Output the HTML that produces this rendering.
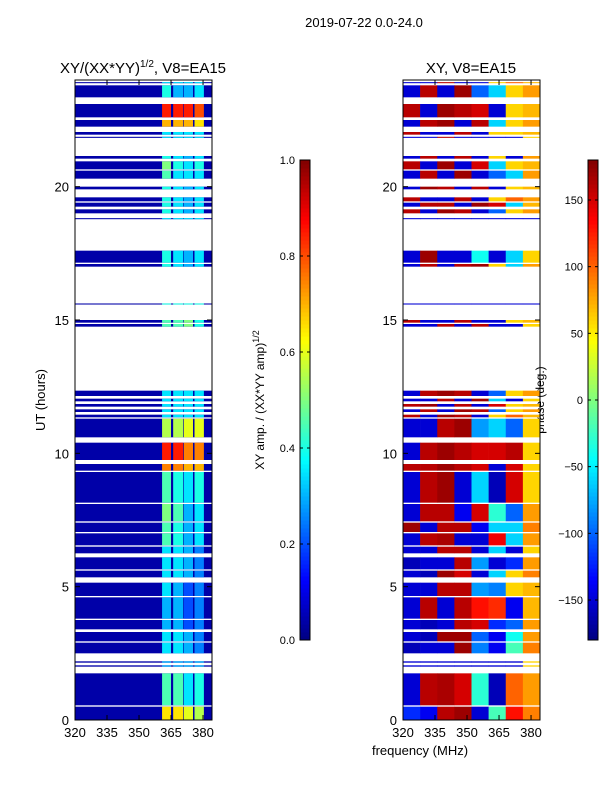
<!DOCTYPE html>
<html><head><meta charset="utf-8"><style>
body{margin:0;background:#fff;font-family:"Liberation Sans",sans-serif}
svg text{font-family:"Liberation Sans",sans-serif;fill:#000}
</style></head><body>
<svg id="s" width="600" height="800" xmlns="http://www.w3.org/2000/svg">
<text x="364" y="27" font-size="13" text-anchor="middle">2019-07-22 0.0-24.0</text>
<text x="143" y="73" font-size="15" text-anchor="middle">XY/(XX*YY)<tspan font-size="10" dy="-6">1/2</tspan><tspan dy="6">, V8=EA15</tspan></text>
<text x="471" y="73" font-size="15" text-anchor="middle">XY, V8=EA15</text>
<text x="45" y="400" font-size="13" text-anchor="middle" transform="rotate(-90 45 400)">UT (hours)</text>
<text x="420" y="755" font-size="13" text-anchor="middle">frequency (MHz)</text>
<text x="264" y="400" font-size="12" text-anchor="middle" transform="rotate(-90 264 400)">XY amp. / (XX*YY amp)<tspan font-size="9" dy="-5">1/2</tspan></text>
<text x="544" y="400" font-size="12" text-anchor="middle" transform="rotate(-90 544 400)">phase (deg.)</text>
<g id="gL"></g>
<g id="gR"></g>
<g id="axes"></g>
</svg>
<script>
const segStart=[0,0.55,2.0,2.15,2.5,2.95,3.4,3.8,4.65,5.35,5.65,6.25,6.55,7.05,7.45,8.15,9.35,9.75,10.6,11.35,11.55,11.75,11.95,12.15,14.75,14.9,15.58,17.0,17.15,18.78,19.0,19.25,19.45,19.9,20.3,20.65,21.05,21.83,21.95,22.25,22.6,23.35,23.88];
const segEnd=[0.5,1.75,2.05,2.2,2.9,3.3,3.75,4.6,5.15,5.6,6.1,6.5,7.0,7.4,8.1,9.3,9.6,10.4,11.3,11.45,11.65,11.85,12.05,12.35,14.85,15.0,15.62,17.1,17.6,18.82,19.15,19.4,19.6,20.0,20.6,20.95,21.15,21.87,22.05,22.5,23.1,23.8,23.92];
const ampWin=[[.65,.65,.6,.55],[.45,.45,.35,.4],[.3,.3,.3,.3],[.3,.3,.3,.3],[.35,.35,.3,.25],[.35,.35,.3,.25],[.3,.3,.2,.25],[.3,.3,.2,.25],[.35,.3,.2,.25],[.35,.35,.3,.25],[.35,.35,.3,.25],[.35,.35,.3,.25],[.45,.4,.3,.35],[.45,.4,.3,.35],[.5,.45,.3,.35],[.45,.4,.35,.4],[.75,.75,.7,.7],[.85,.85,.75,.75],[.55,.55,.6,.6],[.35,.35,.35,.35],[.35,.35,.35,.35],[.35,.35,.35,.35],[.35,.35,.35,.35],[.35,.35,.35,.35],[.45,.45,.5,.4],[.45,.45,.5,.4],[.4,.4,.4,.4],[.4,.35,.3,.35],[.4,.35,.3,.35],[.35,.35,.35,.35],[.4,.35,.3,.35],[.4,.35,.3,.35],[.4,.35,.3,.35],[.4,.35,.3,.35],[.45,.35,.35,.35],[.5,.4,.35,.4],[.4,.35,.3,.35],[.35,.35,.35,.35],[.35,.35,.35,.35],[.7,.7,.7,.65],[.85,.85,.85,.8],[.4,.3,.3,.35],[.35,.35,.35,.35]];
const phaseBins=[[-120,-140,160,170,-150,-20,130,90],[-150,160,165,150,-30,-160,100,80],[-150,-150,-150,-150,-150,-150,-150,60],[-150,-150,-150,-150,-150,-150,-150,60],[-160,-150,-150,170,-90,-140,-20,90],[-150,-160,170,170,-100,-140,-40,80],[-150,-160,-150,160,150,-120,-100,80],[-150,160,-150,160,130,120,-140,70],[-150,-150,160,160,-80,-90,60,70],[-150,-160,170,150,-150,-60,60,90],[-160,-150,-150,160,-80,-150,-120,80],[-150,-150,160,160,-150,-60,-150,60],[-150,160,165,-150,-150,140,-60,80],[170,-150,160,160,-140,-60,-60,90],[-150,160,160,-140,150,-30,-100,80],[-150,160,170,-150,-60,-160,150,60],[160,160,170,160,150,-150,150,60],[-150,160,170,160,150,150,160,60],[-150,-150,160,170,-80,-60,-100,60],[160,-150,170,160,-150,60,100,70],[-150,160,-150,170,160,-100,60,80],[160,170,-150,160,-150,150,60,70],[-150,-150,160,-150,170,-60,-150,60],[-150,160,170,160,-150,-100,60,80],[-150,-150,160,-150,160,-150,-150,60],[160,-150,-150,160,-150,-150,60,70],[-150,-150,-150,-150,-150,-150,-150,-150],[-150,160,-150,160,170,60,-60,80],[-150,170,-150,-150,-40,-150,-60,60],[-150,-150,-150,-150,-150,-150,-150,-150],[160,-150,170,160,-150,-100,60,80],[-150,160,160,-150,170,150,-60,70],[160,-150,-150,160,-150,60,100,80],[-150,170,160,-150,160,-150,60,70],[-150,160,-150,170,-150,-100,-60,80],[160,-150,170,-150,150,-60,60,70],[-150,160,-150,160,-150,60,-150,80],[-150,-150,160,-150,-150,-150,-150,60],[160,-150,-150,160,-150,60,60,70],[-150,160,170,-150,160,-60,60,80],[160,-150,170,160,150,-150,60,70],[-150,160,-150,170,-100,-60,60,80],[-150,-150,160,-150,-150,60,100,70]];
const ampTicks=[0,0.2,0.4,0.6,0.8,1.0];
const phaseTicks=[-150,-100,-50,0,50,100,150];
const hourTicks=[0,5,10,15,20];
const freqTicks=[320,335,350,365,380];

const NS="http://www.w3.org/2000/svg";
const bgAmp=0.04, winLo=[360.8,366,371,376], winHi=[365,370.7,375.3,380.4];
const fMin=320,fMax=384.2,hMin=0,hMax=24,yTop=80,yBot=720,pw=137;
function xs(f,x0){return x0+(f-fMin)/(fMax-fMin)*pw;}
function ys(h){return yBot-(h-hMin)/(hMax-hMin)*(yBot-yTop);}
function cl(v){return Math.max(0,Math.min(1,v));}
function jet(t){const r=cl(1.5-Math.abs(4*t-3)),g=cl(1.5-Math.abs(4*t-2)),b=cl(1.5-Math.abs(4*t-1));return `rgb(${Math.round(r*255)},${Math.round(g*255)},${Math.round(b*255)})`;}
function rect(g,x,y,w,h,fill){const r=document.createElementNS(NS,'rect');r.setAttribute('x',x);r.setAttribute('y',y);r.setAttribute('width',w);r.setAttribute('height',h);r.setAttribute('fill',fill);g.appendChild(r);return r;}
function line(g,x1,y1,x2,y2){const l=document.createElementNS(NS,'line');l.setAttribute('x1',x1);l.setAttribute('y1',y1);l.setAttribute('x2',x2);l.setAttribute('y2',y2);l.setAttribute('stroke','#000');l.setAttribute('stroke-width',1);g.appendChild(l);return l;}
function text(g,x,y,s,anchor){const t=document.createElementNS(NS,'text');t.setAttribute('x',x);t.setAttribute('y',y);t.setAttribute('font-size',13);t.setAttribute('text-anchor',anchor);t.textContent=s;g.appendChild(t);return t;}
const gL=document.getElementById('gL'),gR=document.getElementById('gR'),ax=document.getElementById('axes');
for(let i=0;i<segStart.length;i++){
  const y1=ys(segEnd[i]),y2=ys(segStart[i]),h=Math.max(1,y2-y1);
  const bg=rect(gL,xs(fMin,75),y1,pw,h,jet(bgAmp));
  
  
  for(let w=0;w<4;w++){
    const c=rect(gL,xs(winLo[w],75),y1,xs(winHi[w],75)-xs(winLo[w],75),h,jet(ampWin[i][w]));
    
    
  }
  const nb=phaseBins[i].length,bw=(fMax-fMin)/nb;
  for(let b=0;b<nb;b++){
    const f0=fMin+b*bw;
    const c=rect(gR,xs(f0,403),y1,xs(f0+bw,403)-xs(f0,403)+0.3,h,jet((phaseBins[i][b]+180)/360));
    
    
  }
}
function panel(x0){
  const fr=rect(ax,x0,yTop,pw,yBot-yTop,'none');fr.setAttribute('stroke','#000');
  
  
  hourTicks.forEach(h=>{const y=ys(h);line(ax,x0,y,x0+5,y);line(ax,x0+pw,y,x0+pw-5,y);
    const t=text(ax,x0-6,y+5,String(h),'end');
    
    });
  freqTicks.forEach(f=>{const x=xs(f,x0);line(ax,x,yBot,x,yBot-5);line(ax,x,yTop,x,yTop+5);
    const t=text(ax,x,yBot+17,String(f),'middle');
    
    });
}
panel(75);panel(403);
function cbar(x0,lo,hi,ticks,fmt){
  const n=120,h=(640-160)/n;
  for(let k=0;k<n;k++){const r=rect(ax,x0,640-(k+1)*h,10,h+0.5,jet((k+0.5)/n));
    
    }
  const fr=rect(ax,x0,160,10,480,'none');fr.setAttribute('stroke','#000');
  
  
  ticks.forEach(v=>{const y=640-(v-lo)/(hi-lo)*480;line(ax,x0,y,x0+3,y);line(ax,x0+10,y,x0+7,y);
    const t=text(ax,x0-5,y+4,fmt(v),'end');t.setAttribute('font-size',11);
    
    });
}
cbar(300,0,1,ampTicks,v=>v.toFixed(1));
cbar(588,-180,180,phaseTicks,v=>v<0?'\u2212'+(-v):String(v));
</script>
</body></html>
